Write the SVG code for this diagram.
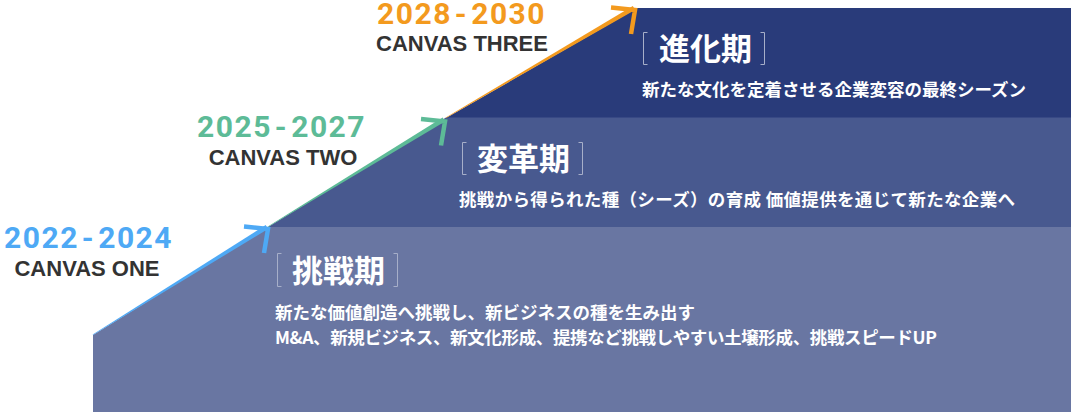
<svg xmlns="http://www.w3.org/2000/svg" width="1071" height="412" viewBox="0 0 1071 412">
<style>
.year{font-family:Roboto,"Liberation Sans",sans-serif;font-weight:700;font-size:30px;letter-spacing:1.5px}
.canvas{font-family:"Liberation Sans",Arial,sans-serif;font-weight:700;font-size:22px;fill:#333333;text-anchor:middle}
.title{font-family:"Noto Sans CJK JP","Noto Sans",sans-serif;font-weight:700;font-size:31px;fill:#ffffff}
.body{font-family:"Noto Sans CJK JP","Noto Sans",sans-serif;font-weight:700;font-size:17.5px;fill:#ffffff}
.bracket{fill:none;stroke:#a7afc9;stroke-width:1}
.head{fill:none;stroke-width:4.5;stroke-linejoin:miter;stroke-linecap:butt}
</style>
<rect width="1071" height="412" fill="#ffffff"/>

<g id="phase-evolution">
  <polygon points="446,118 637,8 1071,8 1071,121 446,121" fill="#293b7a"/>
</g>
<g id="phase-transformation">
  <polygon points="268,227 446,117.5 1071,117.5 1071,230 268,230" fill="#48598f"/>
</g>
<g id="phase-challenge">
  <polygon points="93,335 268,227 1071,227 1071,412 93,412" fill="#6976a2"/>
</g>

<g id="connectors">
  <polygon points="93,335 268,229 265.7,225.1 92.7,334.6" fill="#4ea9f5"/>
  <polyline class="head" stroke="#4ea9f5" points="244,226.5 268,229 264,253"/>
  <polygon points="268,227 445,121.5 442.7,117.6 267.8,226.6" fill="#5dbb97"/>
  <polyline class="head" stroke="#5dbb97" points="421,119 445,121.5 441,145.5"/>
  <polygon points="446,118 635,10 632.8,6.1 445.8,117.6" fill="#f39a1e"/>
  <polyline class="head" stroke="#f39a1e" points="611,7.5 635,10 631,34"/>
</g>

<g id="label-canvas-one">
  <text class="year" x="4" y="248" fill="#4ea9f5">2022<tspan dx="3">-</tspan><tspan dx="3">2024</tspan></text>
  <text class="canvas" x="87" y="276">CANVAS ONE</text>
</g>
<g id="label-canvas-two">
  <text class="year" x="197" y="137" fill="#5dbb97">2025<tspan dx="3">-</tspan><tspan dx="3">2027</tspan></text>
  <text class="canvas" x="283" y="165">CANVAS TWO</text>
</g>
<g id="label-canvas-three">
  <text class="year" x="377" y="24" fill="#f39a1e">2028<tspan dx="3">-</tspan><tspan dx="3">2030</tspan></text>
  <text class="canvas" x="462" y="51">CANVAS THREE</text>
</g>

<g id="text-evolution">
  <path class="bracket" d="M647.5,32.5 H643.5 V64.5 H647.5 M760.5,32.5 H764.5 V64.5 H760.5"/>
  <text class="title" x="659" y="60">進化期</text>
  <text class="body" x="642" y="96">新たな文化を定着させる企業変容の最終シーズン</text>
</g>
<g id="text-transformation">
  <path class="bracket" d="M466.5,142.5 H462.5 V174.5 H466.5 M578.5,142.5 H582.5 V174.5 H578.5"/>
  <text class="title" x="477" y="170">変革期</text>
  <text class="body" x="459" y="206" textLength="556" lengthAdjust="spacing">挑戦から得られた種（シーズ）の育成 価値提供を通じて新たな企業へ</text>
</g>
<g id="text-challenge">
  <path class="bracket" d="M281.5,253.5 H277.5 V286.5 H281.5 M393.5,253.5 H397.5 V286.5 H393.5"/>
  <text class="title" x="292" y="282">挑戦期</text>
  <text class="body" x="275" y="319">新たな価値創造へ挑戦し、新ビジネスの種を生み出す</text>
  <text class="body" x="275" y="344" textLength="662" lengthAdjust="spacing">M&amp;A、新規ビジネス、新文化形成、提携など挑戦しやすい土壌形成、挑戦スピードUP</text>
</g>
</svg>
